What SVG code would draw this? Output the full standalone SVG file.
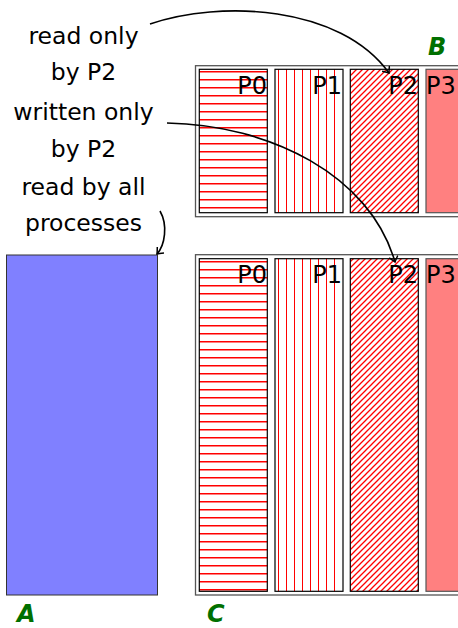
<svg xmlns="http://www.w3.org/2000/svg" width="458" height="628" viewBox="0 0 458 628">
<style>
text{font-family:"DejaVu Sans","Liberation Sans",sans-serif;}
.lbl{font-size:23.5px;fill:#000;text-anchor:middle;}
.pl{font-size:24px;fill:#000;}
.nm{font-size:24px;font-weight:bold;font-style:italic;fill:#007000;}
.outer{fill:#fff;stroke:#555;stroke-width:1.3;}
.cell{stroke:#000;stroke-width:1.2;fill:none;}
.diag{stroke:#000;stroke-width:1.2;fill:url(#dl);}
.bg{fill:#fff;}
.hatch{fill:none;stroke:#f00;stroke-width:1;}
.hh{fill:none;stroke:#f00;stroke-width:1.4;}
.conn{fill:none;stroke:#000;stroke-width:1.6;}
</style>
<defs>
<path id="hB" d="M0,0.8h68M0,8.8h68M0,16.8h68M0,24.8h68M0,32.8h68M0,40.8h68M0,48.8h68M0,56.8h68M0,64.8h68M0,72.8h68M0,80.8h68M0,88.8h68M0,96.8h68M0,104.8h68M0,112.8h68M0,120.8h68M0,128.8h68M0,136.8h68"/>
<path id="hC" d="M0,0.8h68M0,8.8h68M0,16.8h68M0,24.8h68M0,32.8h68M0,40.8h68M0,48.8h68M0,56.8h68M0,64.8h68M0,72.8h68M0,80.8h68M0,88.8h68M0,96.8h68M0,104.8h68M0,112.8h68M0,120.8h68M0,128.8h68M0,136.8h68M0,144.8h68M0,152.8h68M0,160.8h68M0,168.8h68M0,176.8h68M0,184.8h68M0,192.8h68M0,200.8h68M0,208.8h68M0,216.8h68M0,224.8h68M0,232.8h68M0,240.8h68M0,248.8h68M0,256.8h68M0,264.8h68M0,272.8h68M0,280.8h68M0,288.8h68M0,296.8h68M0,304.8h68M0,312.8h68M0,320.8h68M0,328.8h68"/>
<path id="vB" d="M3.5,0v143.4M11.5,0v143.4M19.5,0v143.4M27.5,0v143.4M35.5,0v143.4M43.5,0v143.4M51.5,0v143.4M59.5,0v143.4"/>
<path id="vC" d="M3.5,0v332.6M11.5,0v332.6M19.5,0v332.6M27.5,0v332.6M35.5,0v332.6M43.5,0v332.6M51.5,0v332.6M59.5,0v332.6"/>
<pattern id="dl" patternUnits="userSpaceOnUse" width="6" height="6">
<rect width="6" height="6" fill="#fff"/>
<path d="M-1,1 L1,-1 M0,6 L6,0 M5,7 L7,5" stroke="#f00" stroke-width="1.3"/>
</pattern>
<marker id="arr" viewBox="-6 -5 8 10" refX="0" refY="0" markerWidth="8" markerHeight="10" markerUnits="userSpaceOnUse" orient="auto">
<path d="M-5.5,-4.5 Q-1.5,-1 0,0 Q-1.5,1 -5.5,4.5" fill="none" stroke="#000" stroke-width="1.5"/>
</marker>
</defs>

<g id="labels">
<text class="lbl" x="83.5" y="44">read only</text>
<text class="lbl" x="83.5" y="80">by P2</text>
<text class="lbl" x="83.5" y="120">written only</text>
<text class="lbl" x="83.5" y="157">by P2</text>
<text class="lbl" x="83.5" y="195">read by all</text>
<text class="lbl" x="83.5" y="231">processes</text>
</g>

<g id="A">
<rect x="6.5" y="255" width="151" height="340" fill="#8080ff" stroke="#333" stroke-width="1"/>
<text class="nm" x="17" y="622">A</text>
</g>

<g id="B">
<rect class="outer" x="195.5" y="65.7" width="300" height="151"/>
<rect class="bg" x="199.3" y="69.3" width="68" height="143.4"/>
<use href="#hB" class="hh" x="199.3" y="71"/>
<rect class="cell" x="199.3" y="69.3" width="68" height="143.4"/>
<rect class="bg" x="275" y="69.3" width="68" height="143.4"/>
<use href="#vB" class="hatch" x="275" y="69.3"/>
<rect class="cell" x="275" y="69.3" width="68" height="143.4"/>
<rect class="diag" x="350.3" y="69.3" width="68" height="143.4"/>
<rect x="426" y="69.3" width="68" height="143.4" fill="#ff8080" stroke="#555" stroke-width="1.2"/>
<text class="pl" x="267" y="93.5" text-anchor="end">P0</text>
<text class="pl" x="342" y="93.5" text-anchor="end">P1</text>
<text class="pl" x="418" y="93.5" text-anchor="end">P2</text>
<text class="pl" x="426" y="93.5">P3</text>
<text class="nm" x="428" y="55">B</text>
</g>

<g id="C">
<rect class="outer" x="195.5" y="254.7" width="300" height="340.3"/>
<rect class="bg" x="199.3" y="258.7" width="68" height="332.6"/>
<use href="#hC" class="hh" x="199.3" y="261"/>
<rect class="cell" x="199.3" y="258.7" width="68" height="332.6"/>
<rect class="bg" x="275" y="258.7" width="68" height="332.6"/>
<use href="#vC" class="hatch" x="275" y="258.7"/>
<rect class="cell" x="275" y="258.7" width="68" height="332.6"/>
<rect class="diag" x="350.3" y="258.7" width="68" height="332.6"/>
<rect x="426" y="258.7" width="68" height="332.6" fill="#ff8080" stroke="#555" stroke-width="1.2"/>
<text class="pl" x="267" y="282.5" text-anchor="end">P0</text>
<text class="pl" x="342" y="282.5" text-anchor="end">P1</text>
<text class="pl" x="418" y="282.5" text-anchor="end">P2</text>
<text class="pl" x="426" y="282.5">P3</text>
<text class="nm" x="207" y="622">C</text>
</g>

<g id="connectors">
<path class="conn" d="M150,24 C220,0 340,5 389,73" marker-end="url(#arr)"/>
<path class="conn" d="M167,123 C270,125 370,175 395,262" marker-end="url(#arr)"/>
<path class="conn" d="M160,211 C168,225 165,245 157,254" marker-end="url(#arr)"/>
</g>
</svg>
